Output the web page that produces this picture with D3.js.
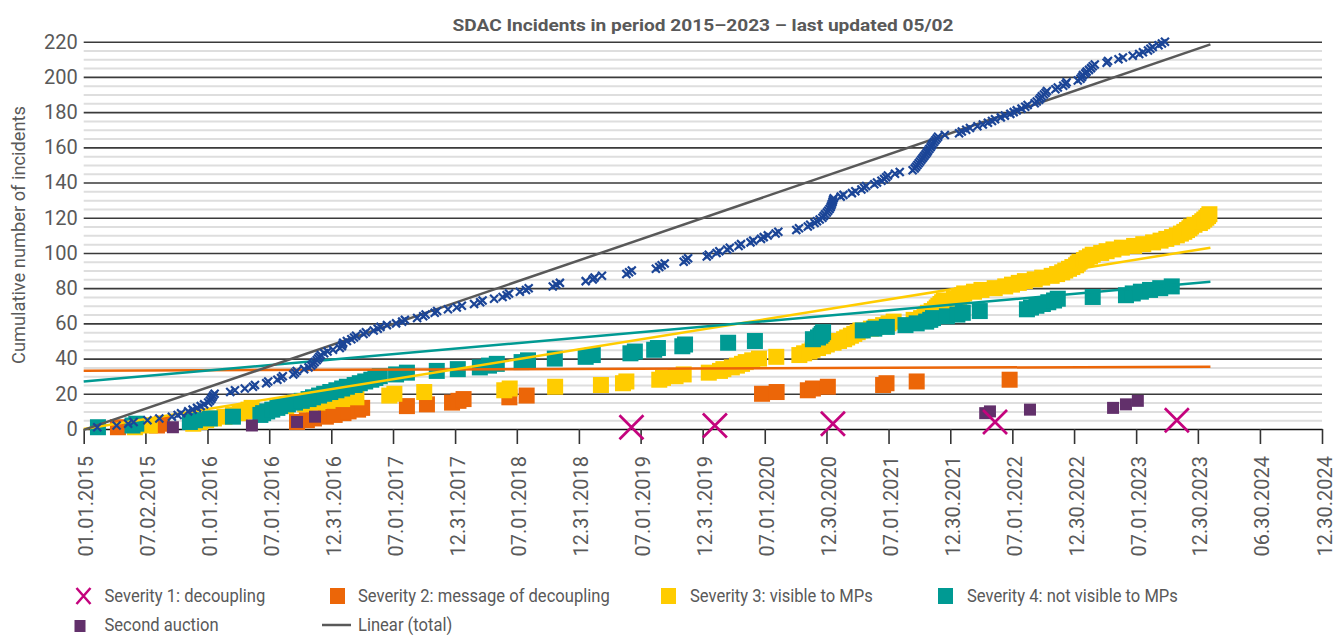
<!DOCTYPE html>
<html>
<head>
<meta charset="utf-8">
<script src="https://cdn.jsdelivr.net/npm/d3@7"></script>
<style>
  body { margin: 0; background: #fff; }
  text { font-family: Roboto, "Noto Sans", sans-serif; fill: #595959; }
</style>
</head>
<body>
<svg id="chart" width="1342" height="635"></svg>
<script>
// ---- data (each date is one incident, y = running count of that series) ----
var totalDates = [
  "2015-02-10","2015-04-08","2015-05-12","2015-05-28","2015-07-08","2015-08-12","2015-09-18","2015-10-05","2015-10-15","2015-11-05","2015-11-18","2015-12-01","2015-12-12","2015-12-22",
  "2016-01-03","2016-01-08","2016-01-12","2016-01-15","2016-01-18","2016-01-22","2016-03-08","2016-03-22","2016-04-20","2016-05-14","2016-05-20","2016-06-22","2016-06-28","2016-07-25","2016-08-05","2016-08-10","2016-09-10","2016-09-15","2016-09-20","2016-10-12","2016-10-25","2016-11-02","2016-11-07","2016-11-12","2016-11-18","2016-11-22","2016-11-26","2016-11-30","2016-12-10","2016-12-20",
  "2017-01-05","2017-01-25","2017-01-31","2017-02-02","2017-02-04","2017-02-15","2017-02-28","2017-03-08","2017-03-14","2017-04-05","2017-04-12","2017-05-05","2017-05-17","2017-05-25","2017-06-13","2017-07-10","2017-07-28","2017-08-05","2017-09-10","2017-09-28","2017-10-05","2017-11-01","2017-11-08","2017-12-10",
  "2018-01-05","2018-01-20","2018-02-25","2018-03-15","2018-03-22","2018-04-25","2018-05-20","2018-06-01","2018-06-08","2018-07-10","2018-07-28","2018-08-05","2018-10-15","2018-10-25","2018-11-05",
  "2019-01-20","2019-02-10","2019-02-15","2019-03-09","2019-05-20","2019-05-28","2019-06-05","2019-08-15","2019-08-25","2019-09-01","2019-09-10","2019-11-05","2019-11-12","2019-11-18",
  "2020-01-12","2020-01-18","2020-02-10","2020-02-18","2020-03-12","2020-03-20","2020-04-15","2020-04-22","2020-05-20","2020-05-28","2020-06-20","2020-06-28","2020-07-10","2020-08-02","2020-08-10","2020-10-02","2020-10-10","2020-11-05","2020-11-12","2020-11-25","2020-12-02","2020-12-10","2020-12-18","2020-12-22","2020-12-26","2020-12-31",
  "2021-01-04","2021-01-08","2021-01-11","2021-01-13","2021-01-15","2021-01-17","2021-01-18","2021-01-20","2021-02-10","2021-02-18","2021-03-15","2021-03-25","2021-04-12","2021-04-20","2021-04-26","2021-05-20","2021-05-28","2021-06-10","2021-06-18","2021-06-24","2021-06-29","2021-07-20","2021-08-03","2021-09-10","2021-09-16","2021-09-20","2021-09-24","2021-09-28","2021-10-02","2021-10-06","2021-10-10","2021-10-14","2021-10-18","2021-10-22","2021-10-25","2021-10-29","2021-11-02","2021-11-05","2021-11-08","2021-11-12","2021-11-16","2021-11-20","2021-11-24","2021-12-14",
  "2022-01-25","2022-02-02","2022-02-15","2022-02-26","2022-03-20","2022-04-05","2022-04-20","2022-05-02","2022-05-11","2022-05-28","2022-06-09","2022-06-25","2022-07-05","2022-07-14","2022-07-28","2022-08-08","2022-08-15","2022-09-05","2022-09-11","2022-09-18","2022-09-22","2022-09-26","2022-10-02","2022-10-07","2022-10-11","2022-11-05","2022-11-12","2022-11-28","2022-12-05","2022-12-08",
  "2023-01-10","2023-01-18","2023-01-22","2023-01-25","2023-02-01","2023-02-05","2023-02-12","2023-02-18","2023-02-23","2023-03-01","2023-04-05","2023-04-09","2023-05-10","2023-05-23","2023-06-21","2023-07-10","2023-07-21","2023-08-05","2023-08-12","2023-08-19","2023-09-05","2023-09-15","2023-09-24"
];

var sev1Dates = ["2019-06-04","2020-02-05","2021-01-18","2022-05-11","2023-10-29"];

var sev2Dates = [
  "2015-04-12","2015-08-05","2015-08-20","2016-09-21","2016-10-20","2016-11-10","2016-12-15","2017-01-10","2017-02-05","2017-02-20","2017-03-20","2017-04-01",
  "2017-08-11","2017-10-09","2017-12-22","2018-01-10","2018-01-25","2018-06-09","2018-07-30","2020-06-23","2020-08-05","2020-11-05","2020-11-20","2021-01-03",
  "2021-06-15","2021-06-25","2021-09-22","2022-06-23"
];

var sev3Dates = [
  "2015-06-01","2015-07-15","2015-11-20","2015-12-10","2015-12-28","2016-01-20","2016-02-20","2016-03-16","2016-04-05","2016-04-20","2016-05-01","2016-05-10",
  "2016-08-20","2016-10-15","2016-11-20","2016-12-20","2017-02-01","2017-03-15","2017-06-20","2017-07-05","2017-10-01","2018-05-25","2018-06-10","2018-10-22",
  "2019-03-06","2019-05-10","2019-05-20","2019-08-25","2019-09-05","2019-10-12","2019-11-05","2020-01-18","2020-02-20","2020-03-01","2020-03-26","2020-04-10",
  "2020-04-25","2020-05-06","2020-05-25","2020-06-14","2020-08-04","2020-10-11","2020-10-25","2020-11-10","2020-11-19","2020-12-05","2020-12-20","2020-12-31",
  "2021-01-20","2021-02-05","2021-02-20","2021-03-01","2021-03-12","2021-03-22","2021-04-01","2021-04-09","2021-05-10","2021-05-24","2021-06-15","2021-07-01",
  "2021-07-16","2021-09-13","2021-10-05","2021-10-15","2021-10-20","2021-10-25","2021-11-05","2021-11-15","2021-11-20","2021-11-25","2021-12-01","2021-12-06",
  "2021-12-11","2022-01-10","2022-01-25","2022-02-03","2022-02-09","2022-03-10","2022-04-01","2022-05-10","2022-06-10","2022-06-30","2022-07-20","2022-08-07",
  "2022-09-05","2022-09-27","2022-10-25","2022-11-10","2022-11-25","2022-12-04","2022-12-15","2022-12-25","2023-01-05","2023-01-10","2023-01-15","2023-01-28",
  "2023-02-05","2023-02-15","2023-02-23","2023-03-20","2023-04-05","2023-04-25","2023-05-20","2023-06-25","2023-07-22","2023-08-20","2023-09-11","2023-09-28",
  "2023-10-15","2023-10-29","2023-11-10","2023-11-20","2023-11-28","2023-12-05","2023-12-10","2023-12-20","2024-01-05","2024-01-12","2024-01-18","2024-01-24",
  "2024-01-29","2024-02-02"
];

var sev4Dates = [
  "2015-02-12","2015-05-25","2015-06-05","2015-11-10","2015-11-25","2016-01-08","2016-03-16","2016-06-05","2016-06-13","2016-06-25","2016-07-10","2016-07-25",
  "2016-08-02","2016-08-25","2016-09-15","2016-10-05","2016-10-25","2016-11-07","2016-11-25","2016-12-10","2016-12-28","2017-01-15","2017-02-01","2017-02-15",
  "2017-03-10","2017-03-25","2017-04-10","2017-04-28","2017-05-10","2017-05-23","2017-07-10","2017-08-11","2017-11-07","2018-01-08","2018-03-14","2018-04-10",
  "2018-05-03","2018-07-15","2018-08-03","2018-10-21","2019-01-20","2019-02-10","2019-06-01","2019-06-14","2019-08-10","2019-08-21","2019-11-01","2019-11-09",
  "2020-03-15","2020-06-02","2020-11-20","2020-12-05","2020-12-12","2020-12-16","2020-12-20","2021-04-16","2021-05-20","2021-06-26","2021-08-20","2021-09-22",
  "2021-10-20","2021-11-01","2021-11-09","2021-12-20","2022-01-20","2022-02-05","2022-03-27","2022-08-13","2022-08-25","2022-09-10","2022-09-29","2022-10-15",
  "2022-11-01","2022-11-12","2023-02-23","2023-06-01","2023-06-21","2023-07-15","2023-08-11","2023-09-10","2023-10-14"
];

var auctionDates  = ["2015-09-21","2016-05-11","2016-09-21","2016-11-13","2022-04-12","2022-04-26","2022-08-22","2023-04-24","2023-06-01","2023-07-06"];
var auctionCounts = [1, 2, 4, 7, 9, 10, 11, 12, 14, 16];

// linear trend lines: value at trendDates[0] and trendDates[1]
var trendDates = ["2015-01-01", "2024-02-05"];
var trendTotal = [-0.5, 218.5];
var trendSev2  = [33.1, 35.4];
var trendSev3  = [0, 103];
var trendSev4  = [27, 83.6];

var xTickLabels = ["01.01.2015","07.02.2015","01.01.2016","07.01.2016","12.31.2016","07.01.2017","12.31.2017","07.01.2018","12.31.2018","07.01.2019",
                   "12.31.2019","07.01.2020","12.30.2020","07.01.2021","12.30.2021","07.01.2022","12.30.2022","07.01.2023","12.30.2023","06.30.2024","12.30.2024"];
var yTicks = [0, 20, 40, 60, 80, 100, 120, 140, 160, 180, 200, 220];

// ---- setup ----
var parseDay = d3.utcParse("%Y-%m-%d");
var parseTick = d3.utcParse("%m.%d.%Y");
var tickDates = xTickLabels.map(parseTick);

var plotLeft = 83.7, plotRight = 1322, plotBottom = 429, plotTop = 41.7;

var x = d3.scaleUtc()
  .domain([tickDates[0], tickDates[tickDates.length - 1]])
  .range([plotLeft, plotRight]);

var y = d3.scaleLinear()
  .domain([0, 220])
  .range([plotBottom, plotTop]);

var colors = {
  sev1: "#C4037D",
  sev2: "#EC6608",
  sev3: "#FFCC00",
  sev4: "#009A93",
  auction: "#62306B",
  total: "#1B4597",
  trend: "#595959"
};

var svg = d3.select("#chart");

function running(dates) {
  return dates.map(function(d, i) { return {date: parseDay(d), value: i + 1}; });
}

// minor gridlines
svg.append("g")
  .attr("transform", "translate(" + plotLeft + ",0)")
  .call(d3.axisLeft(y).tickValues(d3.range(5, 221, 5).filter(function(v) { return v % 20 !== 0; }))
    .tickSize(-(plotRight - plotLeft)).tickFormat(""))
  .call(function(g) { g.select(".domain").remove(); })
  .selectAll("line")
  .attr("stroke", "#dedede")
  .attr("stroke-width", 2);

// major gridlines + labels
var yAxis = svg.append("g")
  .attr("transform", "translate(" + plotLeft + ",0)")
  .call(d3.axisLeft(y).tickValues(yTicks).tickSize(-(plotRight - plotLeft)).tickPadding(6));
yAxis.select(".domain").remove();
yAxis.selectAll("line")
  .attr("stroke", function(d) { return d === 0 ? "none" : "#3a3a3a"; })
  .attr("stroke-width", 1.6);
yAxis.selectAll("text")
  .attr("x", -6)
  .style("font-size", "20px")
  .style("fill", "#595959");

// x axis
var xAxis = svg.append("g")
  .attr("transform", "translate(0," + plotBottom + ")")
  .call(d3.axisBottom(x).tickValues(tickDates).tickSize(15).tickSizeOuter(0)
    .tickFormat(function(d, i) { return xTickLabels[i]; }));
xAxis.select(".domain").attr("stroke", "#111").attr("stroke-width", 1.6);
xAxis.selectAll("line").attr("stroke", "#333").attr("stroke-width", 1.6);
xAxis.selectAll("text")
  .attr("transform", "rotate(-90)")
  .attr("x", -27)
  .attr("y", 2)
  .attr("dy", "0.35em")
  .style("text-anchor", "end")
  .style("font-size", "20px")
  .style("fill", "#595959");

// plot group
var plot = svg.append("g");

function squares(data, color, size) {
  plot.append("g")
    .selectAll("rect")
    .data(data)
    .enter()
    .append("rect")
    .attr("x", function(d) { return x(d.date) - size / 2; })
    .attr("y", function(d) { return y(d.value) - size / 2; })
    .attr("width", size)
    .attr("height", size)
    .attr("fill", color);
}

squares(running(sev2Dates), colors.sev2, 16);
squares(running(sev3Dates), colors.sev3, 16);
squares(running(sev4Dates), colors.sev4, 16);
squares(auctionDates.map(function(d, i) { return {date: parseDay(d), value: auctionCounts[i]}; }), colors.auction, 12);

// trend lines
var trendLine = d3.line()
  .x(function(d) { return x(d.date); })
  .y(function(d) { return y(d.value); });

[[trendSev2, colors.sev2], [trendSev3, colors.sev3], [trendSev4, colors.sev4], [trendTotal, colors.trend]].forEach(function(t) {
  plot.append("path")
    .datum(trendDates.map(function(d, i) { return {date: parseDay(d), value: t[0][i]}; }))
    .attr("d", trendLine)
    .attr("fill", "none")
    .attr("stroke", t[1])
    .attr("stroke-width", 2.5);
});

// severity 1 crosses
plot.append("g")
  .selectAll("path")
  .data(running(sev1Dates))
  .enter()
  .append("path")
  .attr("transform", function(d) { return "translate(" + x(d.date) + "," + y(d.value) + ")"; })
  .attr("d", "M-12,-12L12,12M-12,12L12,-12")
  .attr("stroke", colors.sev1)
  .attr("stroke-width", 2.7)
  .attr("fill", "none");

// total crosses
plot.append("g")
  .selectAll("path")
  .data(running(totalDates))
  .enter()
  .append("path")
  .attr("transform", function(d) { return "translate(" + x(d.date) + "," + y(d.value) + ")"; })
  .attr("d", "M-4,-4L4,4M-4,4L4,-4")
  .attr("stroke", colors.total)
  .attr("stroke-width", 2.2)
  .attr("fill", "none");

// title
svg.append("text")
  .attr("x", 703)
  .attr("y", 31)
  .attr("text-anchor", "middle")
  .attr("font-weight", "700")
  .style("font-size", "17px")
  .attr("textLength", 501)
  .attr("lengthAdjust", "spacingAndGlyphs")
  .text("SDAC Incidents in period 2015\u20132023 \u2013 last updated 05/02");

// y axis title
svg.append("text")
  .attr("transform", "translate(18,235) rotate(-90)")
  .attr("text-anchor", "middle")
  .attr("dy", "0.35em")
  .style("font-size", "19px")
  .attr("textLength", 258)
  .attr("lengthAdjust", "spacingAndGlyphs")
  .text("Cumulative number of incidents");

// legend
var legendItems = [
  {name: "Severity 1: decoupling", type: "x", color: colors.sev1, mx: 83.5, tx: 104.5, row: 0},
  {name: "Severity 2: message of decoupling", type: "sq", color: colors.sev2, mx: 338, tx: 358, row: 0},
  {name: "Severity 3: visible to MPs", type: "sq", color: colors.sev3, mx: 669, tx: 690, row: 0},
  {name: "Severity 4: not visible to MPs", type: "sq", color: colors.sev4, mx: 946, tx: 967, row: 0},
  {name: "Second auction", type: "small", color: colors.auction, mx: 80, tx: 104.5, row: 1},
  {name: "Linear (total)", type: "line", color: colors.trend, mx: 336, tx: 358, row: 1}
];

var legend = svg.selectAll(".legend")
  .data(legendItems)
  .enter()
  .append("g")
  .attr("class", "legend")
  .attr("transform", function(d) { return "translate(0," + (596 + d.row * 29) + ")"; });

legend.each(function(d) {
  var g = d3.select(this);
  if (d.type === "x") {
    g.append("path").attr("d", "M" + (d.mx - 7) + ",-8L" + (d.mx + 7) + ",8M" + (d.mx - 7) + ",8L" + (d.mx + 7) + ",-8")
      .attr("stroke", d.color).attr("stroke-width", 2.5).attr("fill", "none");
  } else if (d.type === "sq") {
    g.append("rect").attr("x", d.mx - 8).attr("y", -8).attr("width", 15).attr("height", 16).attr("fill", d.color);
  } else if (d.type === "small") {
    g.append("rect").attr("x", d.mx - 5.5).attr("y", -5).attr("width", 11).attr("height", 12).attr("fill", d.color);
  } else {
    g.append("line").attr("x1", d.mx - 14).attr("x2", d.mx + 15).attr("stroke", d.color).attr("stroke-width", 2.5);
  }
  var t = g.append("text")
    .attr("x", d.tx)
    .attr("dy", "0.35em")
    .style("font-size", "18px")
    .text(d.name);
  t.attr("textLength", t.node().getComputedTextLength() * 0.92)
    .attr("lengthAdjust", "spacingAndGlyphs");
});
</script>
</body>
</html>
